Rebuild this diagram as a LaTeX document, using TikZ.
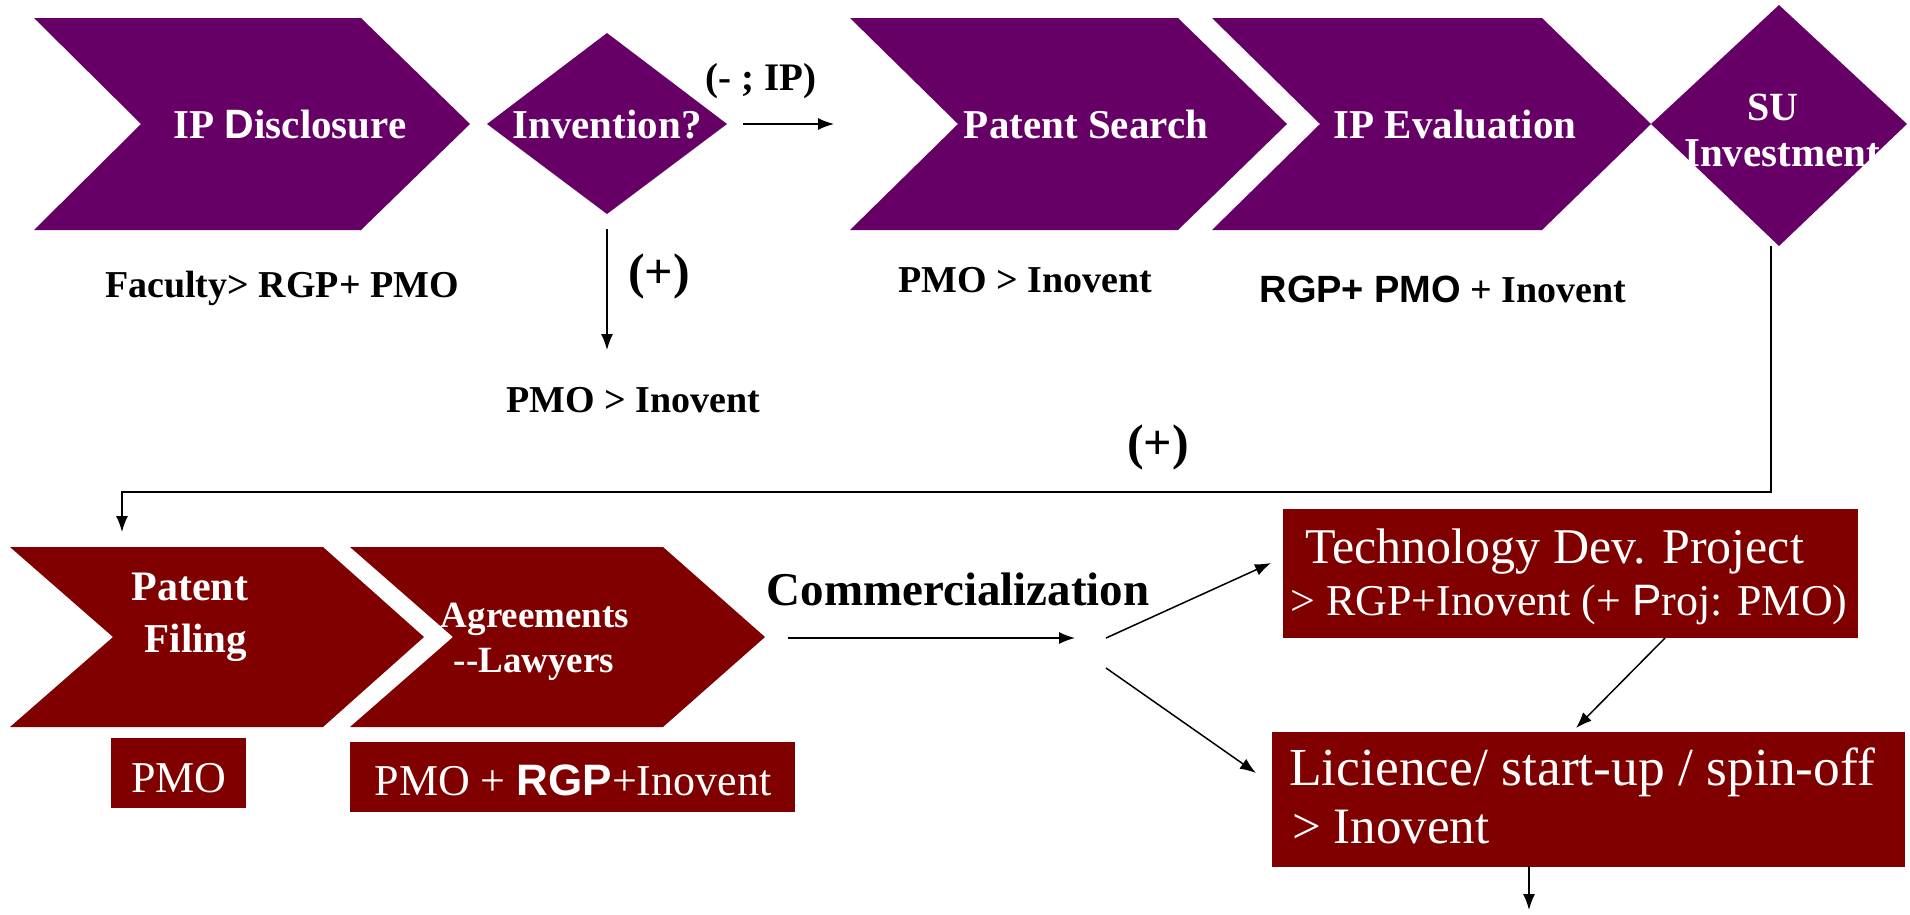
\documentclass[tikz,border=0pt]{standalone}
\usepackage{fontspec}
\setmainfont{Liberation Serif}
\newfontfamily\sansf{Liberation Sans}
\usetikzlibrary{arrows.meta}
\definecolor{purp}{HTML}{660066}
\definecolor{dred}{HTML}{800000}
\newcommand{\fsz}[1]{\fontsize{#1}{#1}\selectfont}
\begin{document}
\begin{tikzpicture}[x=1pt,y=-1pt,
  wlbl/.style={inner sep=0pt, text=white, anchor=base},
  blbl/.style={inner sep=0pt, text=black, anchor=base},
  arr/.style={line width=1.5pt, -{Latex[length=16pt,width=12pt]}},
  pbox/.style={fill=purp},
  rbox/.style={fill=dred}]
\useasboundingbox (0,0) rectangle (1910,914);
% ---------- top row shapes ----------
\fill[pbox] (34,18) -- (361,18) -- (470,124) -- (361,230) -- (34,230) -- (141,124) -- cycle;
\fill[pbox] (607,33) -- (727,124) -- (607,214) -- (487,124) -- cycle;
\fill[pbox] (850,18) -- (1178,18) -- (1287,124) -- (1178,230) -- (850,230) -- (958,124) -- cycle;
\fill[pbox] (1212,18) -- (1542,18) -- (1651,124) -- (1542,230) -- (1212,230) -- (1320,124) -- cycle;
\fill[pbox] (1779,5) -- (1907,124) -- (1779,246) -- (1651,124) -- cycle;
% ---------- top row texts ----------
\node[wlbl, font=\fsz{41}\bfseries] (ipd) at (290,138) {IP {\sansf D}isclosure};
\node[wlbl, font=\fsz{41}\bfseries] (inv) at (607,138) {Invention?};
\node[wlbl, font=\fsz{41}\bfseries] (pse) at (1086,138) {Patent Search};
\node[wlbl, font=\fsz{41}\bfseries] (ipe) at (1455,138) {IP Evaluation};
\node[wlbl, font=\fsz{40}\bfseries] (su) at (1773,120) {SU};
\node[wlbl, font=\fsz{41}\bfseries] (suinv) at (1782,166) {Investment};
\node[blbl, font=\fsz{39}\bfseries] (neg) at (761,90) {(- ; IP)};
\node[blbl, font=\fsz{38}\bfseries] (fac) at (282,297) {Faculty> RGP+ PMO};
\node[blbl, font=\fsz{50}\bfseries] (plus1) at (659,288) {(+)};
\node[blbl, font=\fsz{38}\bfseries] (pmo1) at (633,412) {PMO > Inovent};
\node[blbl, font=\fsz{38}\bfseries] (pmo2) at (1025,292) {PMO > Inovent};
\node[blbl, font=\fsz{38}\bfseries] (rgp) at (1443,302) {{\sansf RGP+ PMO} + Inovent};
\node[blbl, font=\fsz{50}\bfseries] (plus2) at (1158,459) {(+)};
% ---------- bottom row shapes ----------
\fill[rbox] (10,547) -- (323,547) -- (424,637) -- (323,727) -- (10,727) -- (113,637) -- cycle;
\fill[rbox] (350,547) -- (663,547) -- (765,637) -- (663,727) -- (350,727) -- (453,637) -- cycle;
\fill[rbox] (111,738) rectangle (246,808);
\fill[rbox] (350,742) rectangle (795,812);
\fill[rbox] (1283,509) rectangle (1858,638);
\fill[rbox] (1272,732) rectangle (1905,867);
% ---------- bottom row texts ----------
\node[wlbl, font=\fsz{42}\bfseries] (pat) at (190,600) {Patent};
\node[wlbl, font=\fsz{41}\bfseries] (fil) at (196,652) {Filing};
\node[wlbl, font=\fsz{37}\bfseries] (agr) at (535,627) {Agreements};
\node[wlbl, font=\fsz{37}\bfseries] (law) at (534,672) {{-}{-}Lawyers};
\node[wlbl, font=\fsz{44}] (pmob) at (179,792) {PMO};
\node[wlbl, font=\fsz{44}] (pmorgp) at (573,795) {PMO + {\sansf\bfseries RGP}+Inovent};
\node[blbl, font=\fsz{47}\bfseries] (com) at (958,605) {Commercialization};
\node[wlbl, anchor=base west, font=\fsz{50}] (tech1) at (1305,563) {Technology Dev. Project};
\node[wlbl, anchor=base west, font=\fsz{44}] (tech2) at (1290,615) {> RGP+Inovent (+ {\sansf P}roj: PMO)};
\node[wlbl, anchor=base west, font=\fsz{53.5}] (lic1) at (1289,785) {Licience/ start-up / spin-off};
\node[wlbl, anchor=base west, font=\fsz{51}] (lic2) at (1292,843) {> Inovent};
% ---------- connectors ----------
\coordinate (a1s) at (743,124); \coordinate (a1e) at (834,124);
\coordinate (a2s) at (607,229); \coordinate (a2e) at (607,350);
\coordinate (a3s) at (1771,246); \coordinate (a3m) at (1771,492); \coordinate (a3n) at (122,492); \coordinate (a3e) at (122,532);
\coordinate (a4s) at (788,638); \coordinate (a4e) at (1075,638);
\coordinate (a5s) at (1106,638); \coordinate (a5e) at (1271,563);
\coordinate (a6s) at (1106,668); \coordinate (a6e) at (1256,773);
\coordinate (a7s) at (1665,638); \coordinate (a7e) at (1576,728);
\coordinate (a8s) at (1529,866); \coordinate (a8e) at (1529,910);
\draw[arr] (a1s) -- (a1e);
\draw[arr] (a2s) -- (a2e);
\draw[arr] (a3s) -- (a3m) -- (a3n) -- (a3e);
\draw[arr] (a4s) -- (a4e);
\draw[arr] (a5s) -- (a5e);
\draw[arr] (a6s) -- (a6e);
\draw[arr] (a7s) -- (a7e);
\draw[arr] (a8s) -- (a8e);
\end{tikzpicture}
\end{document}
